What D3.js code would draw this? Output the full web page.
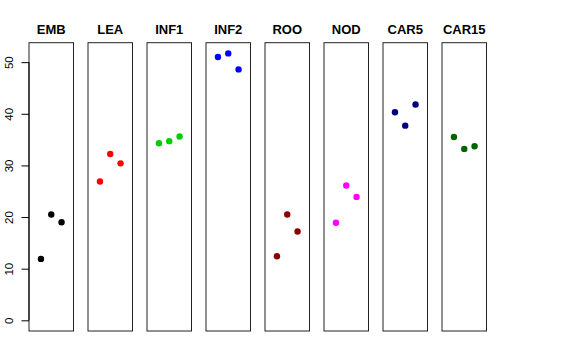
<!DOCTYPE html>
<html><head><meta charset="utf-8">
<script src="https://cdn.jsdelivr.net/npm/d3@7"></script>
<style>body{margin:0;background:#fff}</style>
</head><body>
<svg id="c" width="576" height="360"></svg>
<script>
const categories = ["EMB","LEA","INF1","INF2","ROO","NOD","CAR5","CAR15"];
const colors = ["#000000","#FF0000","#00CD00","#0000FF","#8B0000","#FF00FF","#000080","#006400"];
const rep1 = [11.9, 26.9, 34.3, 51.0, 12.4, 18.9, 40.3, 35.5];
const rep2 = [20.5, 32.2, 34.7, 51.7, 20.5, 26.1, 37.7, 33.2];
const rep3 = [19.0, 30.4, 35.6, 48.6, 17.2, 23.9, 41.8, 33.7];
const yTicks = [0,10,20,30,40,50];
const replicates = [1,2,3];

const svg = d3.select("#c");
const plotTop = 42.7, plotBottom = 331;
const yMax = 51.7;
const y = d3.scaleLinear().domain([-0.04*yMax, yMax*1.04]).range([plotBottom, plotTop]);
const panelX = d3.scaleBand().domain(categories).range([29, 29 + 59*7 + 44.5])
  .paddingInner(14.5/59).paddingOuter(0);
const pw = panelX.bandwidth();
const x = d3.scaleLinear().domain([-0.16, 4.16]).range([0, pw]);

categories.forEach((cat, i) => {
  const g = svg.append("g").attr("transform", `translate(${panelX(cat)},0)`);
  g.append("rect").attr("x",0).attr("y",plotTop).attr("width",pw).attr("height",plotBottom-plotTop)
    .attr("fill","none").attr("stroke","#222").attr("stroke-width",1);
  g.append("text").attr("x",pw/2).attr("y",34).attr("text-anchor","middle")
    .attr("font-family","Liberation Sans, Arial, sans-serif").attr("font-weight","bold")
    .attr("font-size","13px").text(cat);
  const vals = [rep1[i], rep2[i], rep3[i]];
  g.selectAll("circle").data(vals).enter().append("circle")
    .attr("cx",(d,j)=>x(replicates[j])).attr("cy",d=>y(d)).attr("r",3.2)
    .attr("fill",colors[i]);
});

const ax = svg.append("g").attr("transform",`translate(${panelX(categories[0])},0)`)
  .call(d3.axisLeft(y).tickValues(yTicks).tickSize(7.5).tickSizeOuter(0));
ax.select(".domain").attr("d", `M0,${y(0)}V${y(50)}`).attr("stroke","#000");
ax.selectAll(".tick line").attr("stroke","#000");
ax.selectAll(".tick text").attr("font-family","Liberation Sans, Arial, sans-serif").attr("font-size","11.5px")
  .attr("fill","#000")
  .attr("transform","rotate(-90)").attr("x",0).attr("y",-16.5).attr("dy","0").attr("text-anchor","middle");
</script>
</body></html>
